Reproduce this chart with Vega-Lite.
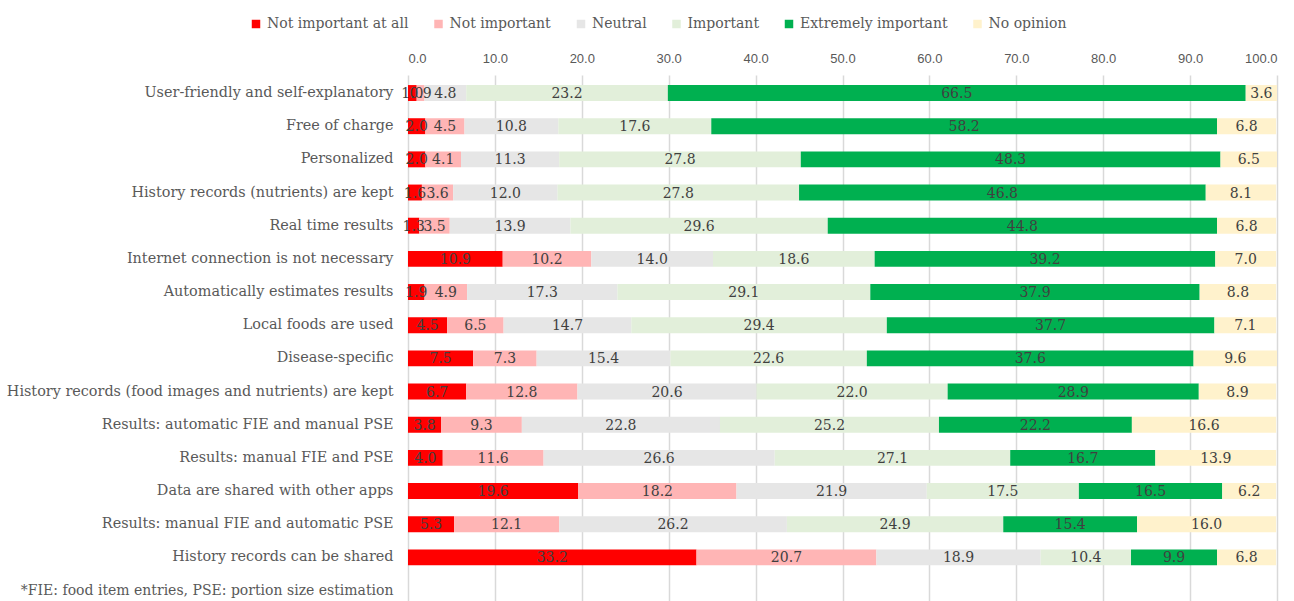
{
  "$schema": "https://vega.github.io/schema/vega-lite/v6.json",
  "width": 869,
  "height": 526,
  "autosize": "none",
  "padding": {"left": 408, "top": 75, "right": 17, "bottom": 0},
  "background": "white",
  "config": {"view": {"stroke": null}, "font": "DejaVu Serif"},
  "data": {"values": [
    {"feature": "User-friendly and self-explanatory", "level": "Not important at all", "value": 1.0},
    {"feature": "User-friendly and self-explanatory", "level": "Not important", "value": 0.9},
    {"feature": "User-friendly and self-explanatory", "level": "Neutral", "value": 4.8},
    {"feature": "User-friendly and self-explanatory", "level": "Important", "value": 23.2},
    {"feature": "User-friendly and self-explanatory", "level": "Extremely important", "value": 66.5},
    {"feature": "User-friendly and self-explanatory", "level": "No opinion", "value": 3.6},
    {"feature": "Free of charge", "level": "Not important at all", "value": 2.0},
    {"feature": "Free of charge", "level": "Not important", "value": 4.5},
    {"feature": "Free of charge", "level": "Neutral", "value": 10.8},
    {"feature": "Free of charge", "level": "Important", "value": 17.6},
    {"feature": "Free of charge", "level": "Extremely important", "value": 58.2},
    {"feature": "Free of charge", "level": "No opinion", "value": 6.8},
    {"feature": "Personalized", "level": "Not important at all", "value": 2.0},
    {"feature": "Personalized", "level": "Not important", "value": 4.1},
    {"feature": "Personalized", "level": "Neutral", "value": 11.3},
    {"feature": "Personalized", "level": "Important", "value": 27.8},
    {"feature": "Personalized", "level": "Extremely important", "value": 48.3},
    {"feature": "Personalized", "level": "No opinion", "value": 6.5},
    {"feature": "History records (nutrients) are kept", "level": "Not important at all", "value": 1.6},
    {"feature": "History records (nutrients) are kept", "level": "Not important", "value": 3.6},
    {"feature": "History records (nutrients) are kept", "level": "Neutral", "value": 12.0},
    {"feature": "History records (nutrients) are kept", "level": "Important", "value": 27.8},
    {"feature": "History records (nutrients) are kept", "level": "Extremely important", "value": 46.8},
    {"feature": "History records (nutrients) are kept", "level": "No opinion", "value": 8.1},
    {"feature": "Real time results", "level": "Not important at all", "value": 1.3},
    {"feature": "Real time results", "level": "Not important", "value": 3.5},
    {"feature": "Real time results", "level": "Neutral", "value": 13.9},
    {"feature": "Real time results", "level": "Important", "value": 29.6},
    {"feature": "Real time results", "level": "Extremely important", "value": 44.8},
    {"feature": "Real time results", "level": "No opinion", "value": 6.8},
    {"feature": "Internet connection is not necessary", "level": "Not important at all", "value": 10.9},
    {"feature": "Internet connection is not necessary", "level": "Not important", "value": 10.2},
    {"feature": "Internet connection is not necessary", "level": "Neutral", "value": 14.0},
    {"feature": "Internet connection is not necessary", "level": "Important", "value": 18.6},
    {"feature": "Internet connection is not necessary", "level": "Extremely important", "value": 39.2},
    {"feature": "Internet connection is not necessary", "level": "No opinion", "value": 7.0},
    {"feature": "Automatically estimates results", "level": "Not important at all", "value": 1.9},
    {"feature": "Automatically estimates results", "level": "Not important", "value": 4.9},
    {"feature": "Automatically estimates results", "level": "Neutral", "value": 17.3},
    {"feature": "Automatically estimates results", "level": "Important", "value": 29.1},
    {"feature": "Automatically estimates results", "level": "Extremely important", "value": 37.9},
    {"feature": "Automatically estimates results", "level": "No opinion", "value": 8.8},
    {"feature": "Local foods are used", "level": "Not important at all", "value": 4.5},
    {"feature": "Local foods are used", "level": "Not important", "value": 6.5},
    {"feature": "Local foods are used", "level": "Neutral", "value": 14.7},
    {"feature": "Local foods are used", "level": "Important", "value": 29.4},
    {"feature": "Local foods are used", "level": "Extremely important", "value": 37.7},
    {"feature": "Local foods are used", "level": "No opinion", "value": 7.1},
    {"feature": "Disease-specific", "level": "Not important at all", "value": 7.5},
    {"feature": "Disease-specific", "level": "Not important", "value": 7.3},
    {"feature": "Disease-specific", "level": "Neutral", "value": 15.4},
    {"feature": "Disease-specific", "level": "Important", "value": 22.6},
    {"feature": "Disease-specific", "level": "Extremely important", "value": 37.6},
    {"feature": "Disease-specific", "level": "No opinion", "value": 9.6},
    {"feature": "History records (food images and nutrients) are kept", "level": "Not important at all", "value": 6.7},
    {"feature": "History records (food images and nutrients) are kept", "level": "Not important", "value": 12.8},
    {"feature": "History records (food images and nutrients) are kept", "level": "Neutral", "value": 20.6},
    {"feature": "History records (food images and nutrients) are kept", "level": "Important", "value": 22.0},
    {"feature": "History records (food images and nutrients) are kept", "level": "Extremely important", "value": 28.9},
    {"feature": "History records (food images and nutrients) are kept", "level": "No opinion", "value": 8.9},
    {"feature": "Results: automatic FIE and manual PSE", "level": "Not important at all", "value": 3.8},
    {"feature": "Results: automatic FIE and manual PSE", "level": "Not important", "value": 9.3},
    {"feature": "Results: automatic FIE and manual PSE", "level": "Neutral", "value": 22.8},
    {"feature": "Results: automatic FIE and manual PSE", "level": "Important", "value": 25.2},
    {"feature": "Results: automatic FIE and manual PSE", "level": "Extremely important", "value": 22.2},
    {"feature": "Results: automatic FIE and manual PSE", "level": "No opinion", "value": 16.6},
    {"feature": "Results: manual FIE and PSE", "level": "Not important at all", "value": 4.0},
    {"feature": "Results: manual FIE and PSE", "level": "Not important", "value": 11.6},
    {"feature": "Results: manual FIE and PSE", "level": "Neutral", "value": 26.6},
    {"feature": "Results: manual FIE and PSE", "level": "Important", "value": 27.1},
    {"feature": "Results: manual FIE and PSE", "level": "Extremely important", "value": 16.7},
    {"feature": "Results: manual FIE and PSE", "level": "No opinion", "value": 13.9},
    {"feature": "Data are shared with other apps", "level": "Not important at all", "value": 19.6},
    {"feature": "Data are shared with other apps", "level": "Not important", "value": 18.2},
    {"feature": "Data are shared with other apps", "level": "Neutral", "value": 21.9},
    {"feature": "Data are shared with other apps", "level": "Important", "value": 17.5},
    {"feature": "Data are shared with other apps", "level": "Extremely important", "value": 16.5},
    {"feature": "Data are shared with other apps", "level": "No opinion", "value": 6.2},
    {"feature": "Results: manual FIE and automatic PSE", "level": "Not important at all", "value": 5.3},
    {"feature": "Results: manual FIE and automatic PSE", "level": "Not important", "value": 12.1},
    {"feature": "Results: manual FIE and automatic PSE", "level": "Neutral", "value": 26.2},
    {"feature": "Results: manual FIE and automatic PSE", "level": "Important", "value": 24.9},
    {"feature": "Results: manual FIE and automatic PSE", "level": "Extremely important", "value": 15.4},
    {"feature": "Results: manual FIE and automatic PSE", "level": "No opinion", "value": 16.0},
    {"feature": "History records can be shared", "level": "Not important at all", "value": 33.2},
    {"feature": "History records can be shared", "level": "Not important", "value": 20.7},
    {"feature": "History records can be shared", "level": "Neutral", "value": 18.9},
    {"feature": "History records can be shared", "level": "Important", "value": 10.4},
    {"feature": "History records can be shared", "level": "Extremely important", "value": 9.9},
    {"feature": "History records can be shared", "level": "No opinion", "value": 6.8}
  ]},
  "transform": [
    {"calculate": "indexof(['Not important at all','Not important','Neutral','Important','Extremely important','No opinion'], datum.level)", "as": "rank"},
    {"stack": "value", "groupby": ["feature"], "sort": [{"field": "rank", "order": "ascending"}], "as": ["x0", "x1"]},
    {"calculate": "(datum.x0 + datum.x1) / 2", "as": "mid"}
  ],
  "encoding": {
    "y": {
      "field": "feature", "type": "nominal", "sort": null,
      "scale": {"paddingInner": 0.52, "paddingOuter": 0.69, "align": 0.22},
      "axis": {
        "title": "*FIE: food item entries, PSE: portion size estimation",
        "titleAngle": 0, "titleX": -15, "titleY": 515, "titleAlign": "right", "titleBaseline": "middle",
        "titleFont": "DejaVu Serif", "titleFontSize": 14, "titleFontWeight": "normal", "titleColor": "#595959",
        "labelFont": "DejaVu Serif", "labelFontSize": 14.4, "labelColor": "#595959",
        "labelPadding": 15, "ticks": false, "domain": false, "labelLimit": 500
      }
    }
  },
  "layer": [
    {
      "mark": {"type": "bar"},
      "encoding": {
        "x": {
          "field": "x0", "type": "quantitative",
          "scale": {"domain": [0, 100], "nice": false},
          "axis": {
            "orient": "top", "title": null, "values": [0, 10, 20, 30, 40, 50, 60, 70, 80, 90, 100],
            "format": ".1f", "labelFont": "Liberation Sans", "labelFontSize": 13, "labelColor": "#595959",
            "domain": false, "ticks": false, "grid": true, "gridColor": "#d9d9d9", "gridWidth": 1.5, "labelPadding": 10
          }
        },
        "x2": {"field": "x1"},
        "color": {
          "field": "level", "type": "nominal",
          "scale": {
            "domain": ["Not important at all", "Not important", "Neutral", "Important", "Extremely important", "No opinion"],
            "range": ["#ff0000", "#ffb5b5", "#e6e6e6", "#e2efda", "#00b050", "#fff2cc"]
          },
          "legend": {
            "title": null, "orient": "none", "direction": "horizontal", "legendX": -159, "legendY": -58,
            "symbolType": "square", "symbolSize": 72, "symbolStrokeWidth": 0,
            "labelFont": "DejaVu Serif", "labelFontSize": 14, "labelColor": "#595959",
            "columnPadding": 22.5, "labelOffset": 4
          }
        }
      }
    },
    {
      "mark": {"type": "text", "font": "DejaVu Serif", "fontSize": 14, "color": "#404040", "baseline": "middle", "dy": 1},
      "encoding": {
        "x": {"field": "mid", "type": "quantitative"},
        "text": {"field": "value", "type": "quantitative", "format": ".1f"}
      }
    }
  ]
}
